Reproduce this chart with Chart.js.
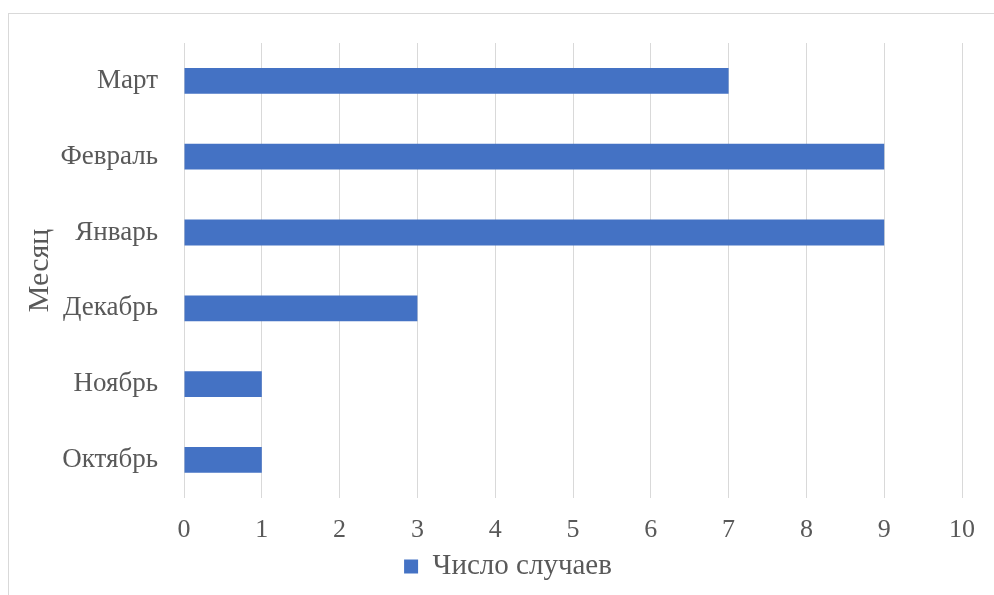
<!DOCTYPE html>
<html>
<head>
<meta charset="utf-8">
<script src="https://cdn.jsdelivr.net/npm/chart.js@4/dist/chart.umd.min.js"></script>
<style>
  body { margin: 0; background: #fff; }
  #frame { position: absolute; left: 8px; top: 13px; width: 1000px; height: 600px; border: 1px solid #d9d9d9; }
  #wrap { position: absolute; left: 0; top: 0; width: 994px; height: 595px; }
</style>
</head>
<body>
<div id="frame"></div>
<div id="wrap"><canvas id="chart-cases"></canvas></div>
<script>
// ==================================================
// DATA
// ==================================================
const months = ["Март", "Февраль", "Январь", "Декабрь", "Ноябрь", "Октябрь"];
const caseCounts = [7, 9, 9, 3, 1, 1];
const seriesLabel = "Число случаев";
const axisTitle = "Месяц";

// ==================================================
// CHART
// ==================================================
const FONT = "'Liberation Serif', 'Times New Roman', serif";
const TEXT = "#595959";

// legend adds a fixed 10px gap; take it back so the plot can be taller,
// then nudge the legend box up and right like in the original
const legendTrim = {
  id: "legendTrim",
  beforeLayout(chart) {
    const lg = chart.legend;
    if (lg && !lg._trimmed) {
      const fit = lg.fit.bind(lg);
      lg.fit = function () {
        fit();
        this.height -= 10;
      };
      lg._trimmed = true;
    }
  },
  afterLayout(chart) {
    const lg = chart.legend;
    if (!lg) return;
    lg.top -= 11;
    lg.bottom -= 11;
    lg.left += 16;
    lg.right += 16;
  },
};

const ctx = document.getElementById("chart-cases").getContext("2d");

new Chart(ctx, {
  type: "bar",
  data: {
    labels: months,
    datasets: [
      {
        label: seriesLabel,
        data: caseCounts,
        backgroundColor: "#4472C4",
        borderWidth: 0,
        barPercentage: 0.68,
        categoryPercentage: 0.5,
      },
    ],
  },
  options: {
    indexAxis: "y",
    responsive: true,
    maintainAspectRatio: false,
    animation: false,
    layout: { padding: { left: 22, right: 32, top: 43, bottom: 3 } },
    plugins: {
      tooltip: { enabled: false },
      legend: {
        position: "bottom",
        labels: {
          color: TEXT,
          font: { family: FONT, size: 29 },
          boxWidth: 14,
          boxHeight: 14,
          padding: 0,
        },
      },
    },
    scales: {
      x: {
        min: 0,
        max: 10,
        ticks: { stepSize: 1, color: TEXT, font: { family: FONT, size: 26 }, padding: 17 },
        grid: { color: "#d9d9d9", drawTicks: false },
        border: { display: false },
      },
      y: {
        ticks: { color: TEXT, font: { family: FONT, size: 27 }, padding: 26 },
        grid: { display: false, drawTicks: false },
        border: { display: false },
        title: { display: true, text: axisTitle, color: TEXT, font: { family: FONT, size: 30 }, padding: 0 },
        afterFit: (scale) => { scale.width = 162; },
      },
    },
  },
  plugins: [legendTrim],
});
</script>
</body>
</html>
